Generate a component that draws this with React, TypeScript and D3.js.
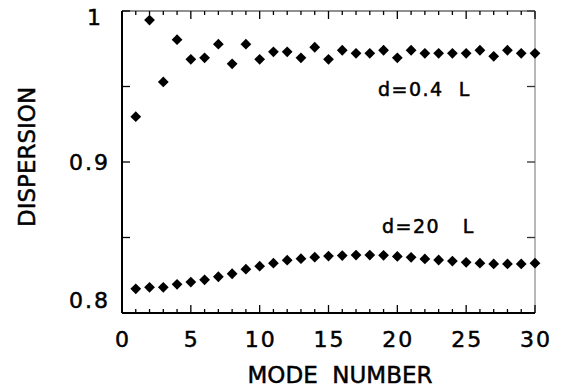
import React, { useEffect, useRef } from 'react';
import * as d3 from 'd3';

const modes = d3.range(1, 31);
const thin = [
  0.930, 0.994, 0.953, 0.981, 0.968, 0.969, 0.978, 0.965, 0.978, 0.968,
  0.973, 0.973, 0.969, 0.976, 0.968, 0.974, 0.972, 0.972, 0.974, 0.969,
  0.974, 0.972, 0.972, 0.972, 0.972, 0.974, 0.970, 0.974, 0.972, 0.972,
];
const thick = [
  0.816, 0.817, 0.817, 0.819, 0.8205, 0.822, 0.824, 0.826, 0.829, 0.831,
  0.833, 0.835, 0.836, 0.837, 0.8377, 0.838, 0.8384, 0.8384, 0.8382, 0.8375,
  0.8369, 0.8358, 0.8351, 0.8344, 0.8336, 0.833, 0.8325, 0.8325, 0.8325, 0.833,
];
const xTickLabels = [0, 5, 10, 15, 20, 25, 30];
const yTickLabels = [0.8, 0.9, 1];

export default function App() {
  const ref = useRef<SVGSVGElement>(null);

  useEffect(() => {
    if (!ref.current) return;
    const svg = d3.select(ref.current);
    svg.selectAll('*').remove();

    const left = 122, right = 535, top = 11, bottom = 313;
    const x = d3.scaleLinear().domain([0, 30]).range([left, right]);
    const y = d3.scaleLinear().domain([0.8, 1]).range([bottom, top]);
    const font = "'DejaVu Sans', sans-serif";

    const g = svg.append('g');

    // frame
    g.append('line').attr('x1', left).attr('x2', right).attr('y1', top).attr('y2', top)
      .attr('stroke', '#222').attr('stroke-width', 1.2);
    g.append('line').attr('x1', right).attr('x2', right).attr('y1', top).attr('y2', bottom)
      .attr('stroke', '#888').attr('stroke-width', 1.2);
    g.append('line').attr('x1', left).attr('x2', left).attr('y1', top).attr('y2', bottom)
      .attr('stroke', '#000').attr('stroke-width', 2);
    g.append('line').attr('x1', left).attr('x2', right).attr('y1', bottom).attr('y2', bottom)
      .attr('stroke', '#000').attr('stroke-width', 2);

    // x ticks
    d3.range(0, 31).forEach(v => {
      const len = v % 5 === 0 ? 8 : 4;
      g.append('line').attr('x1', x(v)).attr('x2', x(v)).attr('y1', bottom).attr('y2', bottom - len)
        .attr('stroke', '#000').attr('stroke-width', 1.3);
      g.append('line').attr('x1', x(v)).attr('x2', x(v)).attr('y1', top).attr('y2', top + len)
        .attr('stroke', '#000').attr('stroke-width', 1.3);
    });

    // y ticks
    [0.85, 0.9, 0.95, 1].forEach(v => {
      g.append('line').attr('x1', left).attr('x2', left + 8).attr('y1', y(v)).attr('y2', y(v))
        .attr('stroke', '#000').attr('stroke-width', 1.3);
      g.append('line').attr('x1', right).attr('x2', right - 8).attr('y1', y(v)).attr('y2', y(v))
        .attr('stroke', '#333').attr('stroke-width', 1.3);
    });

    const txt = (sel: d3.Selection<SVGTextElement, any, any, any>, size: number) =>
      sel.attr('font-family', font).attr('font-size', size)
        .attr('fill', '#000').attr('stroke', '#000').attr('stroke-width', 0.5);

    txt(g.selectAll('.xl').data(xTickLabels).enter().append('text')
      .attr('x', d => x(d) + 1).attr('y', 347).attr('text-anchor', 'middle')
      .attr('letter-spacing', 2).text(d => String(d)), 22);

    const yOff = (d: number) => (d === 1 ? 14 : d === 0.9 ? 8 : -5);
    txt(g.selectAll('.yl').data(yTickLabels).enter().append('text')
      .attr('x', d => (d === 1 ? 103 : 110)).attr('y', d => y(d) + yOff(d))
      .attr('text-anchor', 'end').attr('letter-spacing', 2)
      .text(d => String(d)), 22);

    txt(g.append('text').attr('x', 340).attr('y', 383).attr('text-anchor', 'middle')
      .attr('xml:space', 'preserve').text('MODE  NUMBER'), 23);

    txt(g.append('text').attr('transform', `translate(35,157) rotate(-90)`)
      .attr('text-anchor', 'middle').text('DISPERSION'), 23);

    txt(g.append('text').attr('x', 378).attr('y', 96).attr('letter-spacing', 1.5)
      .attr('xml:space', 'preserve').text('d=0.4  L'), 19);
    txt(g.append('text').attr('x', 382).attr('y', 233).attr('letter-spacing', 1.5)
      .attr('xml:space', 'preserve').text('d=20   L'), 19);

    const diamond = d3.symbol().type(d3.symbolSquare).size(58);
    [thin, thick].forEach(series => {
      g.append('g').selectAll('path').data(modes).enter().append('path')
        .attr('d', diamond() as string)
        .attr('transform', (m, i) => `translate(${x(m)},${y(series[i])}) rotate(45)`)
        .attr('fill', '#000');
    });
  }, []);

  return (
    <svg ref={ref} width={561} height={389}
      style={{ position: 'absolute', left: 0, top: 0, background: '#fff' }} />
  );
}
